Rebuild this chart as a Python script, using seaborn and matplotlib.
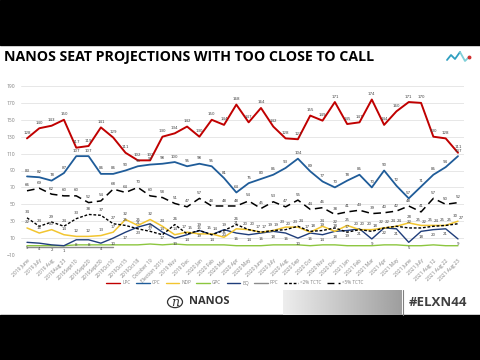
import numpy as np
import pandas as pd
import matplotlib
matplotlib.use("Agg")
import matplotlib.pyplot as plt
import seaborn as sns
from matplotlib.lines import Line2D
from matplotlib.patches import Rectangle, Circle

# ---------------- data ----------------
dates = ["2019 June", "2019 July", "2019 Aug", "2019Aug 23", "2019Sept10", "2019Sept20",
         "2019Sept30", "2019Oct10", "2019Oct15", "2019Oct18", "October 19", "Election 2019",
         "2019 Nov", "2019 Dec", "2020 Jan", "2020 Feb", "2020 Mar", "2020 Apr", "2020 May",
         "2020 June", "2020 July", "2020 Aug", "2020 Sep", "2020 Oct", "2020 Nov", "2020 Dec",
         "2021 Jan", "2021 Feb", "2021 Mar", "2021 Apr", "2021 May", "2021 June", "2021 July",
         "2021 Aug 12", "2021 Aug 22", "2021 Aug 23"]
lpc = [128, 140, 143, 150, 117, 119, 141, 129, 111, 102, 102, 130, 134, 142, 130, 150, 144, 168,
       147, 164, 142, 128, 127, 155, 149, 171, 145, 147, 174, 144, 160, 171, 170, 130, 128, 111]
cpc = [83, 82, 78, 87, 107, 107, 86, 86, 90, 95, 97, 98, 100, 95, 98, 95, 81, 64,
       75, 80, 85, 93, 104, 89, 77, 70, 78, 85, 70, 90, 72, 57, 71, 85, 94, 107]
ndp = [22, 16, 20, 14, 12, 12, 13, 17, 32, 25, 32, 24, 14, 17, 15, 15, 11, 21,
       20, 17, 19, 23, 23, 17, 24, 18, 25, 20, 20, 22, 24, 28, 25, 25, 25, 30]
gpc = [1, 1, 1, 1, 2, 2, 2, 2, 2, 2, 3, 2, 3, 2, 2, 2, 2, 1,
       1, 1, 2, 2, 2, 1, 2, 2, 1, 1, 1, 2, 2, 1, 1, 2, 1, 1]
bq = [5, 4, 2, 1, 8, 8, 4, 10, 17, 23, 27, 17, 10, 14, 19, 14, 20, 16,
      14, 16, 18, 16, 10, 16, 14, 18, 19, 21, 9, 22, 21, 5, 18, 20, 21, 9]
ppc = [0, 0, 0, 0, 0, 0, 0, 0] + [np.nan] * 28
tctc2 = [34, 24, 29, 24, 33, 38, 37, 27, 25, 21, 18, 14, 26, 15, 19, 14, 19, 26,
         20, 17, 19, 20, 24, 18, 19, 22, 17, 20, 18, 22, 24, 22, 22, 24, 25, 27]
tctc5 = [66, 69, 62, 60, 60, 52, 54, 68, 64, 70, 60, 58, 51, 47, 57, 48, 48, 48,
         54, 45, 53, 47, 55, 44, 46, 38, 41, 43, 39, 40, 42, 48, 41, 57, 50, 52]

series_names = ["LPC", "CPC", "NDP", "GPC", "BQ", "PPC", "<2% TCTC", "<5% TCTC"]
series_vals = [lpc, cpc, ndp, gpc, bq, ppc, tctc2, tctc5]
colors = {"LPC": "#c00000", "CPC": "#1f5c99", "NDP": "#f2c530", "GPC": "#8cc63f",
          "BQ": "#1f3d7a", "PPC": "#8c8c8c", "<2% TCTC": "black", "<5% TCTC": "black"}
styles = {"LPC": "-", "CPC": "-", "NDP": "-", "GPC": "-", "BQ": "-", "PPC": "-",
          "<2% TCTC": (0, (2, 1.3)), "<5% TCTC": (0, (5, 3))}
widths = {"LPC": 1.4, "CPC": 1.3, "NDP": 1.1, "GPC": 1.0, "BQ": 1.0, "PPC": 1.0,
          "<2% TCTC": 1.0, "<5% TCTC": 1.1}
draw_order = ["GPC", "PPC", "BQ", "NDP", "<2% TCTC", "<5% TCTC", "CPC", "LPC"]
labelled = ["BQ", "NDP", "<2% TCTC", "<5% TCTC", "CPC", "LPC"]
label_offsets = {"BQ": -2.5, "NDP": 2.5, "<2% TCTC": 2.5, "<5% TCTC": 2.5, "CPC": 2.5, "LPC": 2.5}

rows = []
for name, vals in zip(series_names, series_vals):
    for i, v in enumerate(vals):
        rows.append({"x": i, "series": name, "value": v})
df = pd.DataFrame(rows)

# ---------------- figure ----------------
sns.set_theme(style="white")
plt.rcParams['font.family'] = ['Open Sans', 'DejaVu Sans']

W, H = 480, 360
fig = plt.figure(figsize=(4.8, 3.6), dpi=100)
fig.patch.set_facecolor("white")
fig.add_artist(Rectangle((0, 1 - 45 / H), 1, 45 / H, transform=fig.transFigure,
                         color="black", zorder=0))
fig.add_artist(Rectangle((0, 0), 1, 45 / H, transform=fig.transFigure,
                         color="black", zorder=0))

fig.text(4 / W, 1 - 57 / H, "NANOS SEAT PROJECTIONS WITH TOO CLOSE TO CALL",
         fontsize=10.2, fontweight="bold", color="black", ha="left", va="center")

# small logo top right
lx = np.array([447, 451, 455, 460, 465, 469]) / W
ly = 1 - np.array([60, 55, 59, 52, 61, 57]) / H
fig.add_artist(Line2D(lx[:4], ly[:4], transform=fig.transFigure, color="#2f9fc0", lw=1.3))
fig.add_artist(Line2D(lx[3:], ly[3:], transform=fig.transFigure, color="#7fcfd8", lw=1.3))
fig.add_artist(Line2D([lx[-1]], [ly[-1]], transform=fig.transFigure, marker="o",
                      color="#d03030", ms=1.8, lw=0))

# main axes
x_left = 27 - 6.16
x_right = 458 + 6.16
ax = fig.add_axes([x_left / W, 1 - 255 / H, (x_right - x_left) / W, (255 - 86) / H])
ax.set_facecolor("white")

for name in draw_order:
    sub = df[df["series"] == name].dropna()
    sns.lineplot(data=sub, x="x", y="value", color=colors[name], linewidth=widths[name],
                 linestyle=styles[name], ax=ax, legend=False, sort=False)

for name in labelled:
    sub = df[df["series"] == name].dropna()
    others = {n: v for n, v in zip(series_names, series_vals) if n in ("NDP", "<2% TCTC")}
    for xv, yv in zip(sub["x"], sub["value"]):
        off = label_offsets[name]
        dx = 0
        if name == "<2% TCTC" and abs(others["NDP"][int(xv)] - yv) <= 3:
            dx = 2.2
        if name == "NDP" and abs(others["<2% TCTC"][int(xv)] - yv) <= 3:
            dx = -2.2
        ax.annotate(f"{int(yv)}", (xv, yv), xytext=(dx, off), textcoords="offset points",
                    ha="center", va="bottom" if off > 0 else "top", fontsize=2.9,
                    color="#404040", family="DejaVu Sans")

ax.set_xlim(-0.5, 35.5)
ax.set_ylim(-10, 190)
ax.set_yticks(range(-10, 191, 20))
ax.set_xticks(range(len(dates)))
ax.set_xticklabels(dates, rotation=45, ha="right", rotation_mode="anchor",
                   fontsize=3.6, color="#7f7f7f")
ax.tick_params(axis="y", labelsize=3.6, labelcolor="#7f7f7f", length=0, pad=4)
ax.tick_params(axis="x", length=0, pad=2)
ax.yaxis.grid(True, color="#e3e3e3", linewidth=0.6)
ax.xaxis.grid(False)
ax.set_xlabel("")
ax.set_ylabel("")
for s in ax.spines.values():
    s.set_visible(False)

# legend
handles = [Line2D([0], [0], color=colors[n], lw=1.0, linestyle=styles[n]) for n in series_names]
fig.legend(handles, series_names, loc="center", bbox_to_anchor=(235 / W, 1 - 283 / H),
           ncol=8, frameon=False, fontsize=3.3, handlelength=3.0, columnspacing=1.2,
           handletextpad=0.4, labelcolor="#7f7f7f")

# footer
fig.add_artist(Circle((175 / W, 1 - 302 / H), 7.5 / W, transform=fig.transFigure,
                      fill=False, edgecolor="#333333", lw=0.9))
fig.text(175 / W, 1 - 302.5 / H, "n", fontsize=9, style="italic", color="#333333",
         ha="center", va="center", family="DejaVu Serif")
fig.text(189 / W, 1 - 302 / H, "NANOS", fontsize=8, fontweight="bold", color="#333333",
         ha="left", va="center")

pax = fig.add_axes([283 / W, 1 - 315 / H, (402 - 283) / W, (315 - 290) / H])
grad = np.linspace(0.93, 0.62, 200)[None, :] * np.ones((30, 1))
pax.imshow(grad, cmap="gray", vmin=0, vmax=1, aspect="auto")
pax.set_axis_off()
fig.add_artist(Line2D([402.5 / W, 402.5 / W], [1 - 315 / H, 1 - 290 / H],
                      transform=fig.transFigure, color="#808080", lw=0.8))

fig.text(467 / W, 1 - 302 / H, "#ELXN44", fontsize=9.5, fontweight="bold", color="#404040",
         ha="right", va="center")

fig.savefig("out.png", dpi=100, facecolor=fig.get_facecolor())
